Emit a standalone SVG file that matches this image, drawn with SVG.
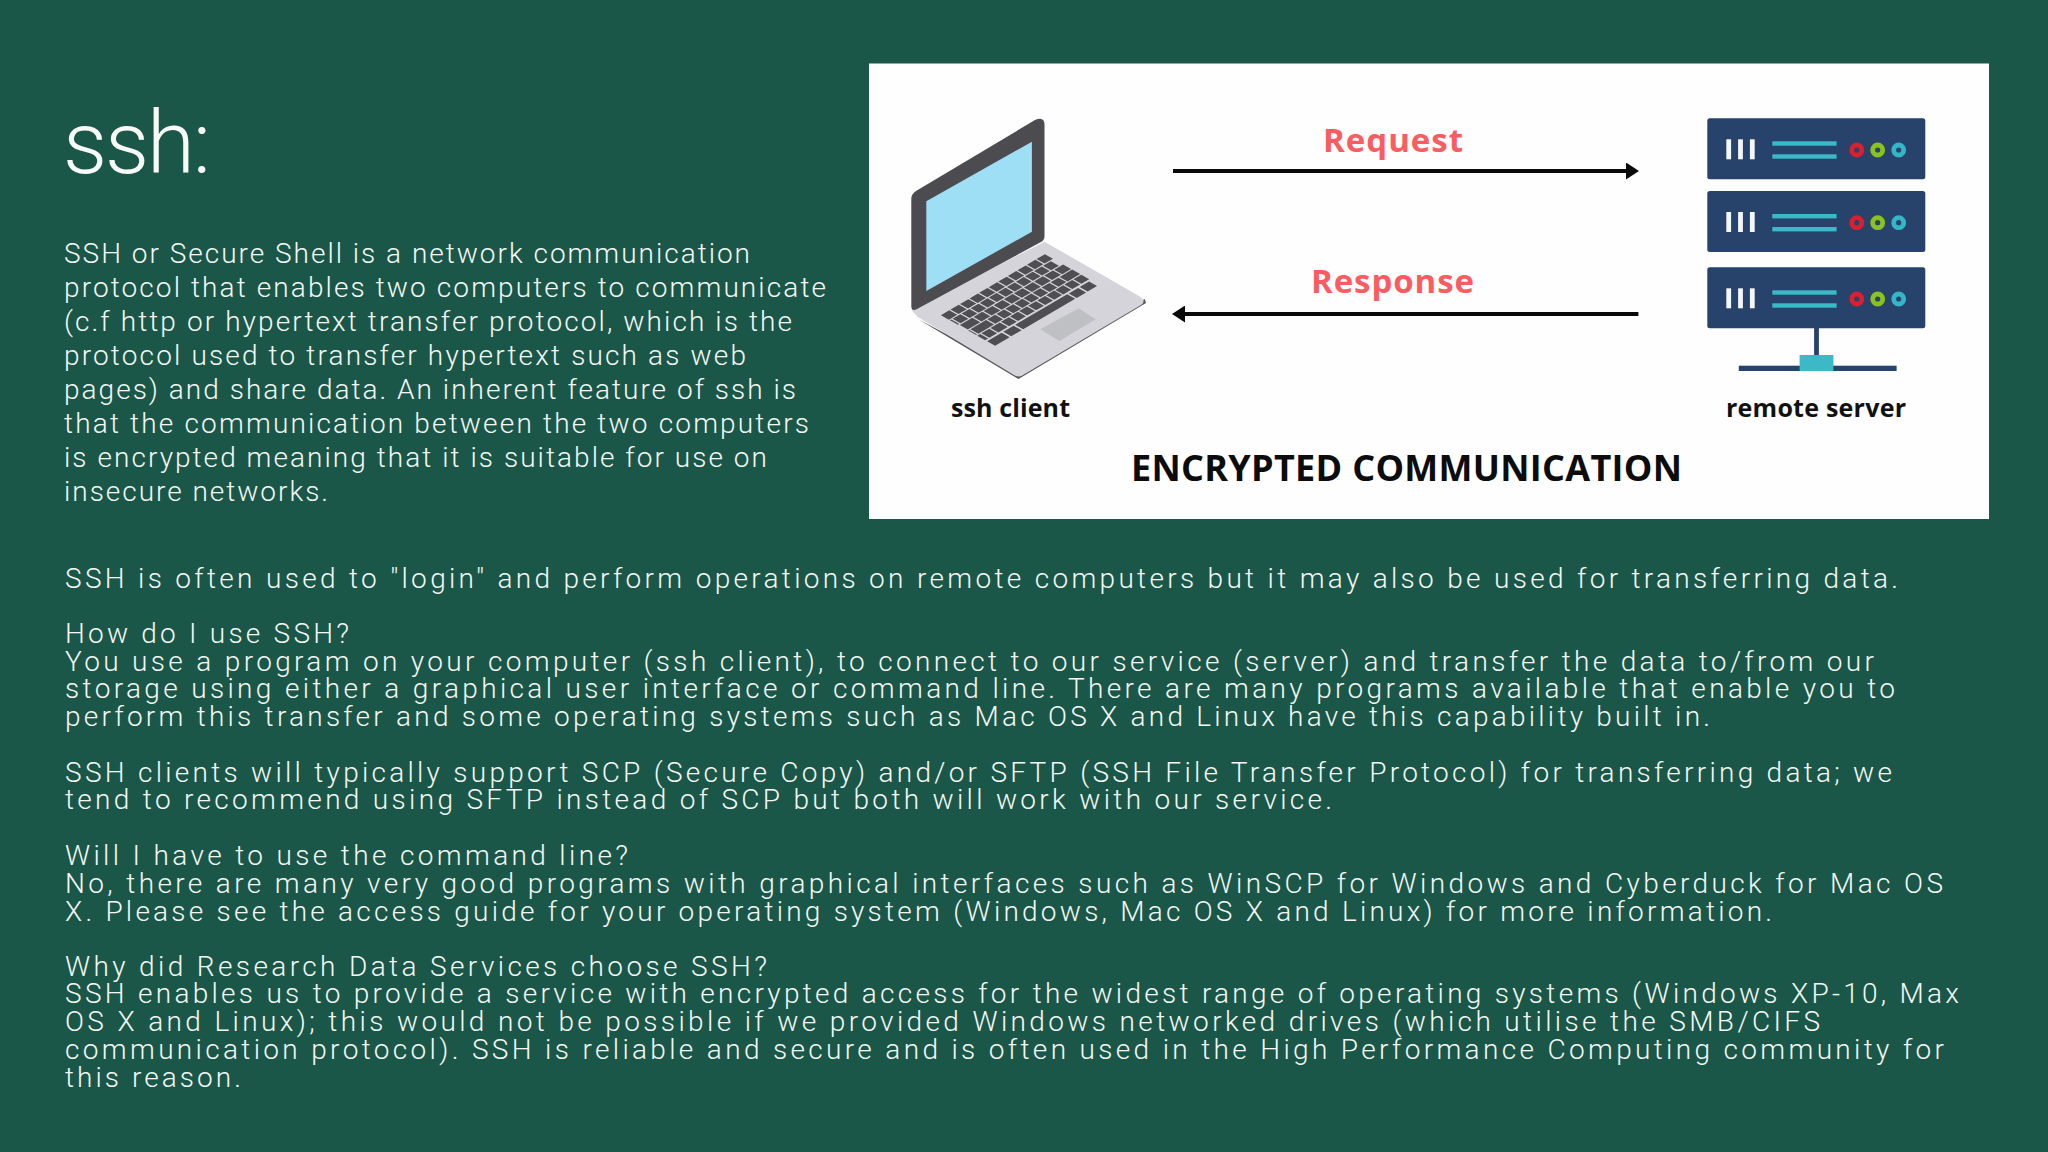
<svg xmlns="http://www.w3.org/2000/svg" xmlns:xlink="http://www.w3.org/1999/xlink" width="2048" height="1152" viewBox="0 0 2048 1152">
<defs>
<style>
.body{font-family:Roboto,"Liberation Sans",sans-serif;font-weight:300;font-size:28px;fill:#f4f7f4}
.body2{font-family:Roboto,"Liberation Sans",sans-serif;font-weight:300;font-size:28px;fill:#f4f7f4}
.title{font-family:Roboto,"Liberation Sans",sans-serif;font-weight:300;font-size:87px;fill:#f8faf8}
.lab{font-family:"Open Sans","Liberation Sans",sans-serif;font-weight:700;font-size:25px;fill:#111}
.red{font-family:"Open Sans","Liberation Sans",sans-serif;font-weight:700;font-size:33px;fill:#f95d62}
.head{font-family:"Open Sans","Liberation Sans",sans-serif;font-weight:700;font-size:36px;fill:#0c0c0c}
.wire{stroke:#0a0a0a;stroke-width:4;fill:none;marker-end:url(#tip)}
.box{fill:#27426b}
.bar{fill:#f4f6f8}
.ln{fill:#3bb9c6}
.k{stroke:#4f4e52;stroke-width:14.500;fill:none}
</style>
<marker id="tip" markerUnits="userSpaceOnUse" markerWidth="13" markerHeight="17" viewBox="0 0 13 17" refX="1" refY="8.5" orient="auto"><path d="M0 0L13 8.5L0 17Z" fill="#0a0a0a"/></marker>
<g id="unit">
<rect class="box" width="218" height="61" rx="2.5"/>
<rect class="bar" x="19" y="21" width="4.8" height="20"/><rect class="bar" x="30.8" y="21" width="4.8" height="20"/><rect class="bar" x="42.6" y="21" width="4.8" height="20"/>
<rect class="ln" x="65" y="23" width="64.3" height="4.4"/><rect class="ln" x="65" y="36" width="64.3" height="4.4"/>
<circle cx="149.5" cy="31.7" r="5" fill="none" stroke="#d8202f" stroke-width="4.8"/>
<circle cx="170.4" cy="31.7" r="5" fill="none" stroke="#8cc21f" stroke-width="4.8"/>
<circle cx="191.4" cy="31.7" r="5" fill="none" stroke="#35b6c6" stroke-width="4.8"/>
</g>
</defs>
<rect width="2048" height="1152" fill="#1b5749"/>
<rect id="panel" x="869" y="63.500" width="1120" height="455.500" fill="#fefefe"/>
<g id="text-left">
<text class="title" x="63" y="173" textLength="148">ssh:</text>
<text class="body" x="64" y="262.700" textLength="686">SSH or Secure Shell is a network communication</text>
<text class="body" x="64" y="296.700" textLength="762">protocol that enables two computers to communicate</text>
<text class="body" x="64" y="330.700" textLength="728">(c.f http or hypertext transfer protocol, which is the</text>
<text class="body" x="64" y="364.700" textLength="682">protocol used to transfer hypertext such as web</text>
<text class="body" x="64" y="398.700" textLength="732">pages) and share data. An inherent feature of ssh is</text>
<text class="body" x="64" y="432.700" textLength="745">that the communication between the two computers</text>
<text class="body" x="64" y="466.700" textLength="703">is encrypted meaning that it is suitable for use on</text>
<text class="body" x="64" y="500.700" textLength="264">insecure networks.</text>
</g>
<g id="text-lower">
<text class="body2" x="65" y="587.700" textLength="1833">SSH is often used to "login" and perform operations on remote computers but it may also be used for transferring data.</text>
<text class="body2" x="65" y="643.300" textLength="284">How do I use SSH?</text>
<text class="body2" x="65" y="671" textLength="1809">You use a program on your computer (ssh client), to connect to our service (server) and transfer the data to/from our</text>
<text class="body2" x="65" y="698.300" textLength="1830">storage using either a graphical user interface or command line. There are many programs available that enable you to</text>
<text class="body2" x="65" y="725.700" textLength="1645">perform this transfer and some operating systems such as Mac OS X and Linux have this capability built in.</text>
<text class="body2" x="65" y="781.700" textLength="1827">SSH clients will typically support SCP (Secure Copy) and/or SFTP (SSH File Transfer Protocol) for transferring data; we</text>
<text class="body2" x="65" y="809.300" textLength="1267">tend to recommend using SFTP instead of SCP but both will work with our service.</text>
<text class="body2" x="65" y="865" textLength="563">Will I have to use the command line?</text>
<text class="body2" x="65" y="892.700" textLength="1878">No, there are many very good programs with graphical interfaces such as WinSCP for Windows and Cyberduck for Mac OS</text>
<text class="body2" x="65" y="920.700" textLength="1707">X. Please see the access guide for your operating system (Windows, Mac OS X and Linux) for more information.</text>
<text class="body2" x="65" y="975.700" textLength="702">Why did Research Data Services choose SSH?</text>
<text class="body2" x="65" y="1003.300" textLength="1894">SSH enables us to provide a service with encrypted access for the widest range of operating systems (Windows XP-10, Max</text>
<text class="body2" x="65" y="1031" textLength="1755">OS X and Linux); this would not be possible if we provided Windows networked drives (which utilise the SMB/CIFS</text>
<text class="body2" x="65" y="1058.700" textLength="1879">communication protocol). SSH is reliable and secure and is often used in the High Performance Computing community for</text>
<text class="body2" x="65" y="1086.700" textLength="176">this reason.</text>
</g>
<g id="node-client">
<path d="M917.800 319L1018.500 379L1146 303L1144.800 299L1018 372Z" fill="#58575c"/>
<path d="M1044.500 241.700L1139 296Q1147 301 1141 305L1023 375Q1018.500 378 1014 375L917.800 317L911.300 310Z" fill="#d5d4da"/>
<path d="M911.300 199Q911.300 194 916 191L1035 120Q1044.500 116 1044.500 125V236Q1044.500 240 1041 242L917 309Q911.300 312 911.300 306Z" fill="#4c4b4f"/>
<path d="M926.300 201.300L1031.900 141.700V231.700L926.300 291Z" fill="#9fdff5"/>
<g id="keys" transform="matrix(.55 .31 -1.04 .61 1044.500 254)">
<path class="k" d="M8 0V100" stroke-dasharray="8 1.200"/>
<path class="k" d="M24.500 3V100" stroke-dasharray="7.500 1.200"/>
<path class="k" d="M41 0V100" stroke-dasharray="8.500 1.200 8.500 1.200 8.500 1.200 8.500 1.200 8.500 1.200 8.500 1.200 8.500 1.200 8.500 1.200 8.500 1.200 12 1.200"/>
<path class="k" d="M57.500 0V100" stroke-dasharray="12 1.200 7.500 1.200 7.500 1.200 7.500 1.200 7.500 1.200 7.500 1.200 7.500 1.200 7.500 1.200 7.500 1.200 15 1.200"/>
<path class="k" d="M74 0V100" stroke-dasharray="7.500 1.200 7.500 1.200 7.500 1.200 7.500 1.200 7.500 1.200 7.500 1.200 7.500 1.200 7.500 1.200 7.500 1.200 9 1.200"/>
<path class="k" d="M92 2V100" stroke-dasharray="9 1.500 9 1.500 50 1.500 10 1.500 14 1.500"/>
</g>
<path d="M1078.600 308.300L1095.800 319.300L1059.400 341L1040.300 329.300Z" fill="#bfc0c3"/>
<text class="lab" x="951" y="416.700" textLength="119">ssh client</text>
</g>
<g id="node-server">
<use xlink:href="#unit" href="#unit" x="1707.300" y="118.300"/>
<use xlink:href="#unit" href="#unit" x="1707.300" y="191"/>
<use xlink:href="#unit" href="#unit" x="1707.300" y="267.300"/>
<rect class="box" x="1814.100" y="328" width="4.800" height="30"/>
<rect class="box" x="1738.800" y="365.700" width="157.800" height="5.300"/>
<rect class="ln" x="1799.600" y="355" width="33.800" height="16"/>
<text class="lab" x="1726" y="416.700" textLength="180">remote server</text>
</g>
<g id="connectors">
<line class="wire" x1="1173" y1="171" x2="1627" y2="171"/>
<line class="wire" x1="1638.400" y1="314" x2="1184" y2="314"/>
</g>
<g id="labels">
<text class="red" x="1323" y="151.700" textLength="140">Request</text>
<text class="red" x="1311" y="292.700" textLength="163">Response</text>
<text class="head" x="1131" y="480.700" textLength="551">ENCRYPTED COMMUNICATION</text>
</g>
</svg>
